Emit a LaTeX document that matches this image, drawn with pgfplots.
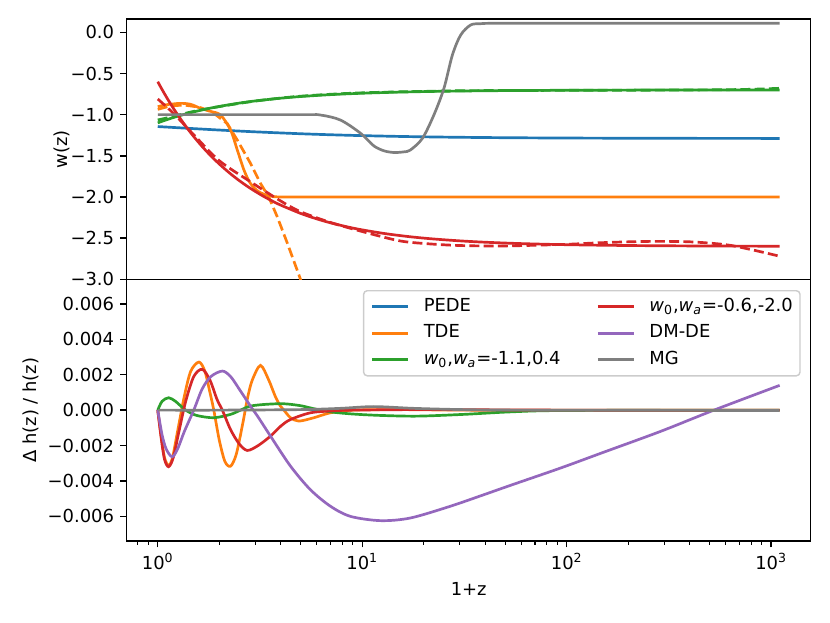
\documentclass[border=0pt]{standalone}
\usepackage{fontspec}
\setmainfont{DejaVu Sans}
\usepackage{pgfplots}
\pgfplotsset{compat=1.18}
\definecolor{c0}{HTML}{1F77B4}
\definecolor{c1}{HTML}{FF7F0E}
\definecolor{c2}{HTML}{2CA02C}
\definecolor{c3}{HTML}{D62728}
\definecolor{c4}{HTML}{9467BD}
\definecolor{c7}{HTML}{7F7F7F}
\tikzset{dsh/.style={dash pattern=on 5.55pt off 2.4pt}}
\begin{document}
\begin{tikzpicture}
\path[use as bounding box] (-0.977in,-0.632in) rectangle (5.423in,4.1715in);
% ---------------- bottom panel ----------------
\begin{axis}[at={(0,0)}, anchor=south west, scale only axis, width=5.274in, height=2.018in,
  xmode=log, xmin=0.705, xmax=1560,
  ymin=-0.0074, ymax=0.0074,
  axis line style={line width=0.8pt, black},
  tick align=outside, tick pos=left,
  major tick length=3.5pt, minor tick length=2pt,
  every tick/.style={black, line width=0.8pt},
  every minor tick/.style={black, line width=0.6pt},
  scaled y ticks=false,
  tick label style={font=\normalsize},
  every axis plot/.append style={line width=1.5pt},
  xtick={1,10,100,1000},
  xticklabels={10\textsuperscript{0},10\textsuperscript{1},10\textsuperscript{2},10\textsuperscript{3}},
  minor xtick={0.8,0.9,2,3,4,5,6,7,8,9,20,30,40,50,60,70,80,90,200,300,400,500,600,700,800,900},
  ytick={-0.006,-0.004,-0.002,0,0.002,0.004,0.006},
  yticklabels={−0.006,−0.004,−0.002,0.000,0.002,0.004,0.006},
  xlabel={1+z}, ylabel={Δ h(z) / h(z)},
  xlabel style={at={(axis description cs:0.5,-0.183)}, anchor=center},
  ylabel style={at={(axis description cs:-0.140,0.5)}, anchor=center},
  legend columns=2, legend cell align=left,
  legend image code/.code={\draw[#1] plot coordinates {(0pt,0pt) (10pt,0pt) (20pt,0pt)};},
  legend style={at={(rel axis cs:0.9854,0.959)}, anchor=north east,
    draw=black!20, line width=0.8pt, rounded corners=2pt, fill=white,
    inner xsep=4pt, inner ysep=4pt, row sep=5pt,
    nodes={inner sep=0pt, text height=7.5pt, text depth=2.3pt},
    /tikz/every odd column/.append style={column sep=8pt},
    /tikz/every even column/.append style={column sep=20pt},
    font=\normalsize},
]
\addplot[c0, forget plot] coordinates {(1,0) (1100,0)};
\addplot[c1, smooth, forget plot] coordinates {
(1,0) (1.04,-0.0015) (1.08,-0.0027) (1.13,-0.00313) (1.18,-0.0027) (1.25,-0.0012)
(1.35,0.0008) (1.45,0.0022) (1.59,0.00272) (1.7,0.0022) (1.8,0.0010) (1.88,0.0)
(2.0,-0.0017) (2.13,-0.0029) (2.27,-0.00317) (2.42,-0.0025) (2.6,-0.0008) (2.75,0.0007)
(2.9,0.0017) (3.18,0.00253) (3.49,0.0017) (3.75,0.0008) (3.98,0.00023) (4.14,0.0)
(4.46,-0.00043) (4.9,-0.00062) (5.8,-0.00043) (7,-0.00015) (9,0.0) (15,0.00003)
(30,0.0) (100,0) (1100,0)};
\addplot[c2, smooth, forget plot] coordinates {
(1,0) (1.05,0.0005) (1.13,0.0007) (1.22,0.0005) (1.37,0.0) (1.55,-0.0003) (1.88,-0.00043)
(2.27,-0.00024) (2.54,0.0) (2.84,0.00023) (3.4,0.00033) (4.14,0.00036) (5,0.00025)
(5.8,0.00008) (7,-0.0001) (9,-0.00022) (12.3,-0.0003) (18.6,-0.00034) (31.4,-0.00024)
(53,-0.0001) (100,-0.00002) (1100,0)};
\addplot[c3, smooth, forget plot] coordinates {
(1,0) (1.04,-0.0016) (1.08,-0.0028) (1.13,-0.0032) (1.19,-0.0027) (1.27,-0.0012)
(1.37,0.0005) (1.5,0.0019) (1.65,0.00231) (1.8,0.0017) (1.95,0.0006) (2.07,0.0)
(2.27,-0.0011) (2.5,-0.0019) (2.74,-0.00228) (3.1,-0.0020) (3.56,-0.00147)
(4.0,-0.0009) (4.46,-0.00053) (5.58,-0.00015) (7,-0.00005) (9,0) (20,0.00003) (100,0) (1100,0)};
\addplot[c4, smooth, forget plot] coordinates {
(1,0) (1.05,-0.0014) (1.1,-0.0022) (1.176,-0.00264) (1.25,-0.0022) (1.35,-0.0012)
(1.5,0.0) (1.65,0.0012) (1.82,0.0019) (2.07,0.00221) (2.27,0.0019) (2.5,0.0012)
(2.84,0.00023) (3.1,-0.0004) (3.56,-0.00147) (4.46,-0.00317) (5.58,-0.0045)
(7.0,-0.00544) (8.77,-0.00601) (12.3,-0.00625) (17.2,-0.0061) (26.9,-0.00544)
(39.4,-0.00478) (53.2,-0.00425) (93,-0.00328) (150,-0.0024) (288,-0.0012)
(525,0.0) (1100,0.0014)};
\addplot[c7, smooth, forget plot] coordinates {
(1,0) (2,0) (5,0.00003) (7.8,0.0001) (11.4,0.0002) (17.9,0.0001)
(31,0.00003) (60,0) (1100,-0.00002)};
\addlegendimage{c0, line width=1.5pt}\addlegendentry{PEDE}
\addlegendimage{c3, line width=1.5pt}\addlegendentry{\textit{w}\textsubscript{0},\textit{w}\textsubscript{\textit{a}}=-0.6,-2.0}
\addlegendimage{c1, line width=1.5pt}\addlegendentry{TDE}
\addlegendimage{c4, line width=1.5pt}\addlegendentry{DM-DE}
\addlegendimage{c2, line width=1.5pt}\addlegendentry{\textit{w}\textsubscript{0},\textit{w}\textsubscript{\textit{a}}=-1.1,0.4}
\addlegendimage{c7, line width=1.5pt}\addlegendentry{MG}
\end{axis}
% ---------------- top panel ----------------
\begin{axis}[at={(0,2.018in)}, anchor=south west, scale only axis, width=5.274in, height=2.007in,
  xmode=log, xmin=0.705, xmax=1560,
  ymin=-3, ymax=0.162,
  axis line style={line width=0.8pt, black},
  tick align=outside, tick pos=left,
  major tick length=3.5pt, minor tick length=2pt,
  every tick/.style={black, line width=0.8pt},
  tick label style={font=\normalsize},
  every axis plot/.append style={line width=1.5pt},
  xtick=\empty,
  ytick={-3,-2.5,-2,-1.5,-1,-0.5,0},
  yticklabels={−3.0,−2.5,−2.0,−1.5,−1.0,−0.5,0.0},
  ylabel={w(z)},
  ylabel style={at={(axis description cs:-0.0946,0.5)}, anchor=center},
]
\addplot[c0, smooth] coordinates {
(1,-1.1448) (1.2,-1.1562) (1.5,-1.1700) (2,-1.1871) (3,-1.2090) (5,-1.2321) (7,-1.2444)
(10,-1.2550) (15,-1.2644) (20,-1.2696) (30,-1.2752) (50,-1.2802) (100,-1.2843)
(300,-1.2875) (1100,-1.2889)};
\addplot[c1, smooth] coordinates {
(1,-0.904) (1.1,-0.88) (1.29,-0.863) (1.45,-0.875) (1.62,-0.924) (1.81,-0.96) (2.03,-1.005)
(2.27,-1.187) (2.45,-1.43) (2.64,-1.673) (2.84,-1.835) (3.12,-1.937) (3.56,-1.99)
(4.2,-2.0) (10,-2.0) (1100,-2.0)};
\addplot[c1, dsh] coordinates {
(1,-0.936) (1.15,-0.895) (1.34,-0.883) (1.6,-0.91) (1.85,-0.97) (2.19,-1.11)
(2.45,-1.31) (2.84,-1.59) (3.18,-1.835) (3.49,-2.0) (3.84,-2.24) (4.3,-2.56)
(4.99,-3.0) (5.4,-3.3)};
\addplot[c2, smooth] coordinates {
(1,-1.1) (1.05,-1.081) (1.1,-1.0636) (1.2,-1.0333) (1.3,-1.0077) (1.4,-0.9857)
(1.5,-0.9667) (1.65,-0.9424) (1.8,-0.9222) (2,-0.9) (2.5,-0.86) (3,-0.8333) (4,-0.8)
(5,-0.78) (7,-0.7571) (10,-0.74) (15,-0.7267) (22,-0.7182) (30,-0.7133) (50,-0.708)
(100,-0.704) (200,-0.702) (500,-0.7008) (1100,-0.7004)};
\addplot[c2, dsh, smooth] coordinates {
(1,-1.065) (1.2,-1.02) (1.5,-0.96) (2,-0.903) (3,-0.835) (5,-0.776) (10,-0.735)
(30,-0.71) (100,-0.705) (300,-0.702) (700,-0.695) (1100,-0.68)};
\addplot[c3, smooth] coordinates {
(1,-0.6) (1.05,-0.6952) (1.1,-0.7818) (1.15,-0.8609) (1.2,-0.9333) (1.3,-1.0615)
(1.4,-1.1714) (1.5,-1.2667) (1.65,-1.3879) (1.8,-1.4889) (2,-1.6) (2.25,-1.7111)
(2.5,-1.8) (2.8,-1.8857) (3.2,-1.975) (3.6,-2.0444) (4,-2.1) (5,-2.2) (6,-2.2667)
(7,-2.3143) (8.5,-2.3647) (10,-2.4) (13,-2.4462) (17,-2.4824) (22,-2.5091)
(30,-2.5333) (40,-2.55) (60,-2.5667) (100,-2.58) (200,-2.59) (500,-2.596) (1100,-2.5982)};
\addplot[c3, dsh, smooth] coordinates {
(1,-0.81) (1.2,-0.99) (1.5,-1.245) (2,-1.56) (2.84,-1.815) (4,-2.05) (5,-2.18)
(7,-2.31) (10,-2.42) (15,-2.53) (20,-2.565) (30,-2.59) (50,-2.595) (100,-2.575)
(150,-2.555) (250,-2.54) (400,-2.545) (600,-2.58) (800,-2.64) (1100,-2.72)};
\addplot[c7, smooth] coordinates {
(1,-1.0) (5,-1.0) (6.25,-1.005) (7.83,-1.066) (9.82,-1.227) (11.4,-1.38)
(12.8,-1.44) (14.3,-1.46) (16,-1.452) (17.2,-1.43) (19.7,-1.288) (22.4,-1.005)
(25.1,-0.68) (27.6,-0.276) (30.3,-0.033) (33.9,0.089) (38,0.105) (45,0.11) (100,0.11) (1100,0.11)};
\end{axis}
\end{tikzpicture}
\end{document}
